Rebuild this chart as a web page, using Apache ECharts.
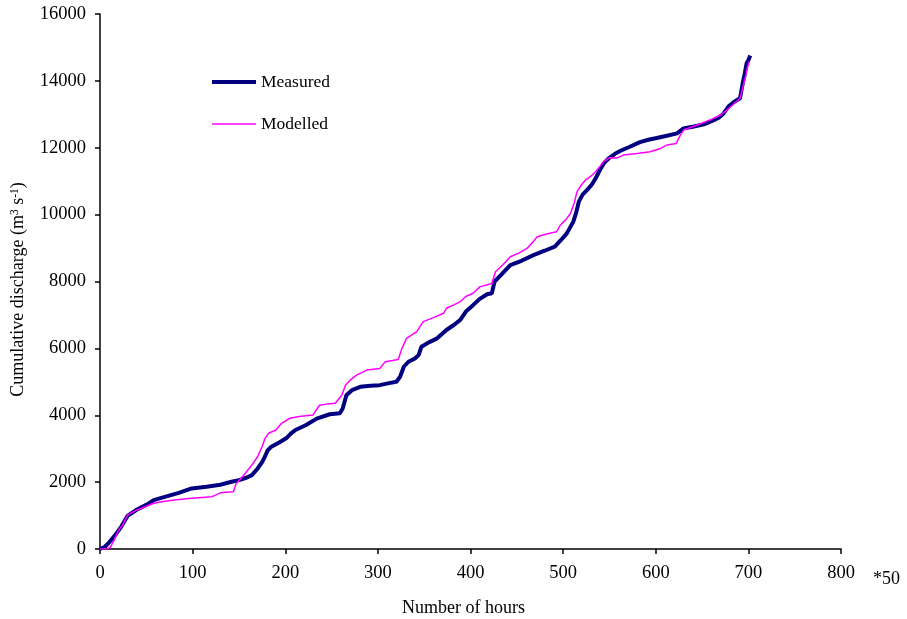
<!DOCTYPE html>
<html>
<head>
<meta charset="utf-8">
<script src="https://cdn.jsdelivr.net/npm/echarts@6/dist/echarts.min.js"></script>
<style>html,body{margin:0;padding:0;background:#fff}#c{width:907px;height:619px}</style>
</head>
<body>
<div id="c"></div>
<script>
// Measured cumulative discharge: [hours/50, m3 s-1]
var measured = [[0,0],[5,60],[10,200],[16,400],[23,670],[30,1000],[40,1180],[50,1320],[58,1460],[70,1560],[85,1680],[99,1810],[115,1860],[130,1920],[142,2010],[150,2060],[158,2130],[164,2210],[170,2400],[175,2600],[178,2760],[181,2950],[185,3060],[193,3180],[201,3310],[206,3450],[211,3560],[222,3700],[234,3900],[248,4030],[259,4060],[262,4200],[266,4600],[272,4750],[281,4850],[292,4880],[302,4900],[312,4960],[320,5000],[324,5150],[328,5450],[333,5600],[340,5700],[344,5800],[347,6050],[355,6180],[364,6300],[374,6550],[382,6700],[389,6850],[395,7100],[403,7300],[410,7480],[418,7620],[423,7650],[426,8000],[433,8200],[443,8490],[455,8620],[468,8790],[480,8920],[491,9040],[498,9250],[504,9440],[511,9790],[514,10050],[517,10390],[521,10600],[526,10740],[531,10900],[535,11080],[540,11350],[544,11540],[550,11700],[556,11820],[562,11910],[572,12030],[583,12170],[592,12240],[601,12290],[612,12360],[623,12430],[630,12580],[640,12630],[652,12700],[662,12820],[668,12900],[673,13020],[679,13250],[684,13360],[691,13480],[694,13950],[696,14200],[698,14520],[700,14620],[702,14760]];
// Modelled cumulative discharge
var modelled = [[0,0],[6,0],[11,40],[15,250],[20,560],[24,700],[30,1020],[40,1170],[50,1280],[58,1370],[70,1430],[85,1480],[99,1515],[110,1540],[121,1565],[130,1680],[144,1710],[147,1960],[155,2200],[165,2550],[170,2750],[175,3060],[178,3300],[182,3460],[190,3560],[196,3760],[205,3910],[215,3960],[230,4010],[237,4300],[246,4340],[254,4360],[261,4600],[265,4900],[270,5050],[277,5200],[288,5350],[302,5400],[308,5600],[322,5670],[326,6000],[331,6300],[342,6500],[349,6800],[360,6920],[371,7050],[374,7200],[382,7300],[389,7400],[395,7550],[403,7650],[410,7840],[423,7940],[427,8290],[435,8500],[443,8740],[452,8850],[461,8990],[468,9200],[472,9340],[482,9420],[493,9490],[497,9690],[503,9850],[508,10040],[512,10350],[515,10690],[520,10900],[524,11030],[530,11150],[535,11280],[540,11450],[544,11590],[550,11700],[558,11690],[565,11780],[580,11830],[594,11880],[605,11980],[612,12080],[622,12130],[626,12350],[630,12530],[645,12680],[662,12870],[670,12980],[677,13130],[684,13300],[691,13480],[694,13800],[697,14130],[699,14400],[701,14580]];
var seriesNames = ['Measured', 'Modelled'];
var xAxisName = 'Number of hours';
var xUnitNote = '*50';

var FONT = '"Liberation Serif", "Times New Roman", serif';
var chart = echarts.init(document.getElementById('c'), null, {renderer: 'canvas'});
var axisCommon = {
  axisLine: {show: true, lineStyle: {color: '#000', width: 1.5}},
  axisTick: {show: true, inside: false, length: 5, lineStyle: {color: '#000', width: 1.5}},
  splitLine: {show: false},
  axisLabel: {color: '#000', fontFamily: FONT, fontSize: 18.5, formatter: function (v) { return String(v); }}
};
chart.setOption({
  animation: false,
  backgroundColor: '#fff',
  title: {text: xUnitNote, left: 868, top: 565, textStyle: {fontFamily: FONT, fontSize: 18, fontWeight: 'normal', color: '#000'}},
  legend: [
    {data: [seriesNames[0]], orient: 'vertical', left: 207, top: 68, icon: 'rect', itemWidth: 44, itemHeight: 4, itemGap: 5,
     textStyle: {fontFamily: FONT, fontSize: 17.5, color: '#000'}},
    {data: [seriesNames[1]], orient: 'vertical', left: 207, top: 110, icon: 'rect', itemWidth: 44, itemHeight: 1.5, itemGap: 5,
     textStyle: {fontFamily: FONT, fontSize: 17.5, color: '#000'}}
  ],
  grid: {left: 100, right: 66, top: 14, bottom: 70, containLabel: false, outerBoundsMode: 'none'},
  xAxis: Object.assign({}, axisCommon, {
    type: 'value', min: 0, max: 800, interval: 100,
    name: xAxisName, nameLocation: 'middle', nameGap: 50,
    nameTextStyle: {fontFamily: FONT, fontSize: 18, color: '#000', padding: [0, 14, 0, 0]},
    axisLabel: Object.assign({}, axisCommon.axisLabel, {margin: 15})
  }),
  yAxis: Object.assign({}, axisCommon, {
    type: 'value', min: 0, max: 16000, interval: 2000,
    name: 'Cumulative discharge (m{sup|3} s{sup|-1})', nameLocation: 'middle', nameGap: 73, nameRotate: 90,
    nameTextStyle: {fontFamily: FONT, fontSize: 18, color: '#000', padding: [0, 16, 0, 0],
      rich: {sup: {fontFamily: FONT, fontSize: 11.5, color: '#000', verticalAlign: 'top', padding: [0, 0, 6, 0]}}},
    axisLabel: Object.assign({}, axisCommon.axisLabel, {margin: 14})
  }),
  series: [
    {name: seriesNames[0], type: 'line', data: measured, showSymbol: false, symbol: 'none', smooth: false,
     lineStyle: {color: '#000080', width: 4}, itemStyle: {color: '#000080'}, z: 2},
    {name: seriesNames[1], type: 'line', data: modelled, showSymbol: false, symbol: 'none', smooth: false,
     lineStyle: {color: '#FF00FF', width: 1.5}, itemStyle: {color: '#FF00FF'}, z: 3}
  ]
});
</script>
</body>
</html>
